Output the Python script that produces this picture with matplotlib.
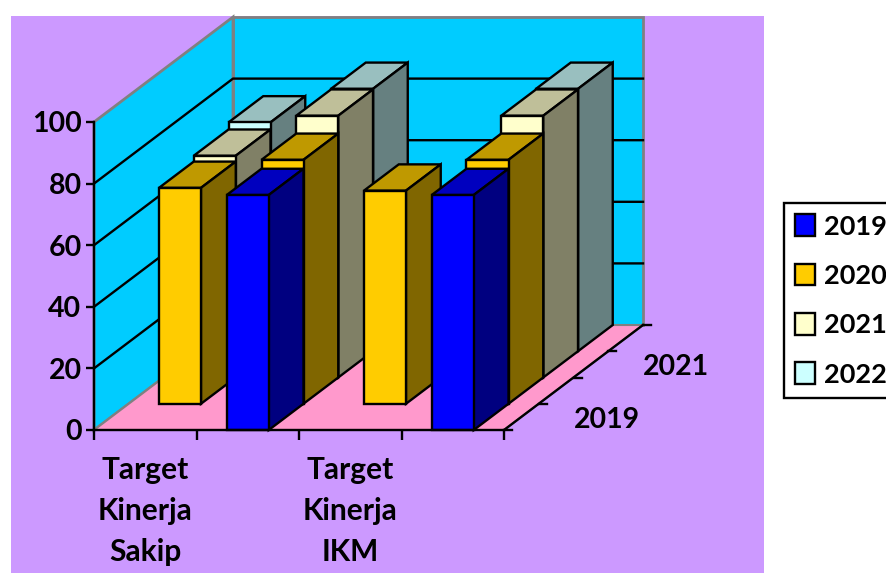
import matplotlib
matplotlib.use("Agg")
import matplotlib.pyplot as plt
from matplotlib.patches import Polygon, Rectangle, Patch

plt.rcParams["font.family"] = "Lato"
plt.rcParams["font.weight"] = "bold"

years = ["2019", "2020", "2021", "2022"]
categories = ["Target\nKinerja\nSakip", "", "Target\nKinerja\nIKM", ""]
val2019 = [None, 76.3, None, 76.3]
val2020 = [70.1, 79.2, 69.2, 79.2]
val2021 = [72.0, 85.0, None, 85.0]
val2022 = [74.3, 85.2, None, 85.2]
series = [val2019, val2020, val2021, val2022]
yticks = [0, 20, 40, 60, 80, 100]
depth_labels = {0: "2019", 2: "2021"}

front = ["#0000FF", "#FFCC00", "#FFFFCC", "#CCFFFF"]
side = ["#000080", "#806600", "#808066", "#668080"]
top = ["#0000BF", "#BF9900", "#BFBF99", "#99BFBF"]

W, H = 886, 573
DX = 34.75 / 102.5  # oblique shift per depth row, in category units
DY = 26.25 / 3.08  # same in value units
BAR = 42 / 102.5
LW = 1.7
FS = 20.5


def pt(x, v, d):
    return (x + d * DX, v + d * DY)


fig = plt.figure(figsize=(W / 100, H / 100), dpi=100, facecolor="white")
fig.add_artist(Rectangle((11 / W, 0), 753 / W, (H - 16) / H, transform=fig.transFigure,
                         facecolor="#CC99FF", edgecolor="none", zorder=-5))
ax = fig.add_axes([94 / W, (H - 430) / H, 410 / W, 308 / H])
ax.patch.set_visible(False)
ax.set_xlim(0, 4)
ax.set_ylim(0, 100)
nrows = len(years)


def poly(points, fc, ec="black", lw=LW):
    ax.add_patch(Polygon(points, closed=True, facecolor=fc, edgecolor=ec, linewidth=lw,
                         joinstyle="miter", clip_on=False, zorder=1))


# walls and floor
poly([pt(0, 0, nrows), pt(4, 0, nrows), pt(4, 100, nrows), pt(0, 100, nrows)], "#00CCFF", "#808080", 2)
poly([pt(0, 0, 0), pt(0, 0, nrows), pt(0, 100, nrows), pt(0, 100, 0)], "#00CCFF", "#808080", 2)
poly([pt(0, 0, 0), pt(4, 0, 0), pt(4, 0, nrows), pt(0, 0, nrows)], "#FF99CC", "#808080", 1.5)

for t in yticks[1:-1]:
    xs, ys = zip(pt(0, t, 0), pt(0, t, nrows), pt(4, t, nrows))
    ax.plot(xs, ys, color="black", lw=LW, clip_on=False, zorder=1)
xs, ys = zip(pt(4, 0, 0), pt(4, 0, nrows))
ax.plot(xs, ys, color="black", lw=LW, clip_on=False, zorder=1)

# bars, back row first
for r in range(nrows - 1, -1, -1):
    for c, v in enumerate(series[r]):
        if v is None:
            continue
        x0 = c + 0.5 - BAR / 2
        x1 = x0 + BAR
        poly([pt(x0, v, r), pt(x1, v, r), pt(x1, v, r + 1), pt(x0, v, r + 1)], top[r])
        poly([pt(x1, 0, r), pt(x1, 0, r + 1), pt(x1, v, r + 1), pt(x1, v, r)], side[r])
        poly([pt(x0, 0, r), pt(x1, 0, r), pt(x1, v, r), pt(x0, v, r)], front[r])

# depth axis
for r in range(nrows + 1):
    xs, ys = zip(pt(4, 0, r), pt(4.08, 0, r))
    ax.plot(xs, ys, color="black", lw=LW, clip_on=False, zorder=3)
for r, lab in depth_labels.items():
    x, y = pt(4.83, -0.9, r + 0.5)
    ax.text(x, y, lab, ha="center", va="center", fontsize=FS, fontweight="bold", color="black")

for s in ["top", "right"]:
    ax.spines[s].set_visible(False)
for s in ["left", "bottom"]:
    ax.spines[s].set_linewidth(LW)
ax.set_yticks(yticks)
ax.set_yticklabels([str(t) for t in yticks], fontsize=FS, fontweight="bold")
ax.tick_params(axis="y", length=6, width=LW, pad=3)
ax.set_xticks(range(5))
ax.set_xticklabels([])
ax.tick_params(axis="x", which="major", length=7, width=LW)
ax.set_xticks([c + 0.5 for c in range(4)], categories, minor=True, fontsize=21.5,
              fontweight="bold", linespacing=1.58)
ax.tick_params(axis="x", which="minor", length=0, pad=18.5)

handles = [Patch(facecolor=f, edgecolor="black", linewidth=LW, label=y) for f, y in zip(front, years)]
leg = fig.legend(handles=handles, loc="upper left", bbox_to_anchor=(784 / W, (H - 203) / H),
                 borderaxespad=0, fontsize=19.5, frameon=True, fancybox=False, framealpha=1,
                 edgecolor="black", handlelength=0.72, handleheight=0.85, handletextpad=0.33,
                 labelspacing=0.93, borderpad=0.42)
leg.get_frame().set_linewidth(LW)

fig.savefig("out.png", dpi=100)
